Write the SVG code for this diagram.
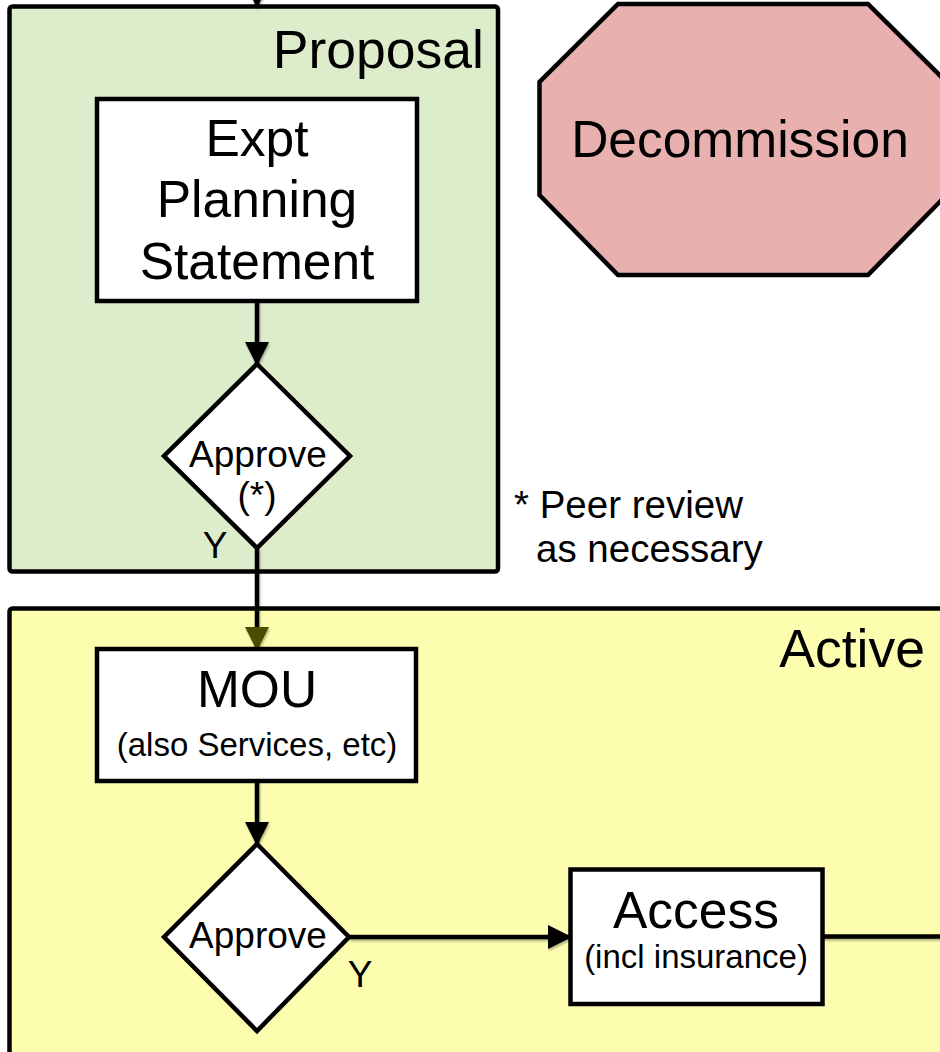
<svg xmlns="http://www.w3.org/2000/svg" width="940" height="1052" viewBox="0 0 940 1052">
  <style>
    text { font-family: "Liberation Sans", Arial, Helvetica, sans-serif; fill: #000; }
    .big { font-size: 51.5px; text-anchor: middle; }
    .mid { font-size: 37px; text-anchor: middle; }
    .small { font-size: 33px; text-anchor: middle; }
    .title { font-size: 53.5px; text-anchor: end; }
    .note { font-size: 38.5px; }
    .box { fill: #ffffff; stroke: #000; stroke-width: 4.5; }
    .frame { stroke: #000; stroke-width: 4.5; }
    .wire { fill: none; stroke: #000; stroke-width: 4.5; }
  </style>
  <defs>
    <marker id="head" viewBox="0 0 24 24" refX="22" refY="12" markerWidth="24" markerHeight="24" markerUnits="userSpaceOnUse" orient="auto">
      <path d="M0,0 L24,12 L0,24 Z" fill="#000"/>
    </marker>
    <marker id="headOlive" viewBox="0 0 24 24" refX="22" refY="12" markerWidth="24" markerHeight="24" markerUnits="userSpaceOnUse" orient="auto">
      <path d="M0,0 L24,12 L0,24 Z" fill="#4d4d00"/>
    </marker>
    <filter id="soft" x="-10%" y="-10%" width="120%" height="130%">
      <feGaussianBlur in="SourceAlpha" stdDeviation="1.2"/>
      <feOffset dx="1" dy="2" result="blur"/>
      <feComponentTransfer><feFuncA type="linear" slope="0.3"/></feComponentTransfer>
      <feMerge><feMergeNode/><feMergeNode in="SourceGraphic"/></feMerge>
    </filter>
  </defs>

  <!-- phase containers -->
  <g id="proposal">
    <rect class="frame" x="9.5" y="6.5" width="488.5" height="565" rx="3" fill="#ddeccb"/>
    <text class="title" x="484" y="68">Proposal</text>
  </g>
  <g id="active">
    <rect class="frame" x="9.5" y="608.5" width="950" height="470" rx="3" fill="#fdfdb0"/>
    <text class="title" x="925" y="667">Active</text>
  </g>

  <g id="decommission">
    <polygon points="618,4 868,4 946.5,82 946.5,195 868,275 618,275 539.5,195 539.5,82" fill="#e9b0b0" stroke="#000" stroke-width="4.5"/>
    <text class="big" x="740" y="157">Decommission</text>
  </g>

  <g id="note">
    <text class="note" x="514" y="518">* Peer review</text>
    <text class="note" x="536" y="562">as necessary</text>
  </g>

  <!-- connectors -->
  <g id="connectors" filter="url(#soft)">
    <line class="wire" x1="257" y1="-30" x2="257" y2="6" marker-end="url(#head)"/>
    <line class="wire" x1="257" y1="301" x2="257" y2="364" marker-end="url(#head)"/>
    <line class="wire" x1="257" y1="548" x2="257" y2="608.5"/>
    <line class="wire" x1="257" y1="608.5" x2="257" y2="649" stroke="#4d4d00" marker-end="url(#headOlive)"/>
    <line class="wire" x1="257" y1="781" x2="257" y2="844" marker-end="url(#head)"/>
    <line class="wire" x1="349" y1="937" x2="570" y2="937" marker-end="url(#head)"/>
    <line class="wire" x1="822" y1="936.5" x2="945" y2="936.5"/>
  </g>

  <!-- process nodes -->
  <g id="expt-planning">
    <rect class="box" x="97" y="99" width="320" height="202"/>
    <text class="big" x="257" y="156">Expt</text>
    <text class="big" x="257" y="217">Planning</text>
    <text class="big" x="257" y="279">Statement</text>
  </g>

  <g id="approve-proposal">
    <polygon class="box" points="257,364 350,456 257,548 164,456"/>
    <text class="mid" x="258" y="467">Approve</text>
    <text class="mid" x="257" y="508">(*)</text>
    <text class="mid" x="215" y="558">Y</text>
  </g>

  <g id="mou">
    <rect class="box" x="97" y="649" width="319" height="132"/>
    <text class="big" x="257" y="707">MOU</text>
    <text class="small" x="257" y="756">(also Services, etc)</text>
  </g>

  <g id="approve-active">
    <polygon class="box" points="257,844 349,937 257,1031 164,937"/>
    <text class="mid" x="258" y="948">Approve</text>
    <text class="mid" x="360" y="987">Y</text>
  </g>

  <g id="access">
    <rect class="box" x="570.5" y="869.5" width="252" height="134.5"/>
    <text class="big" x="696" y="928">Access</text>
    <text class="small" x="696" y="968">(incl insurance)</text>
  </g>
</svg>
